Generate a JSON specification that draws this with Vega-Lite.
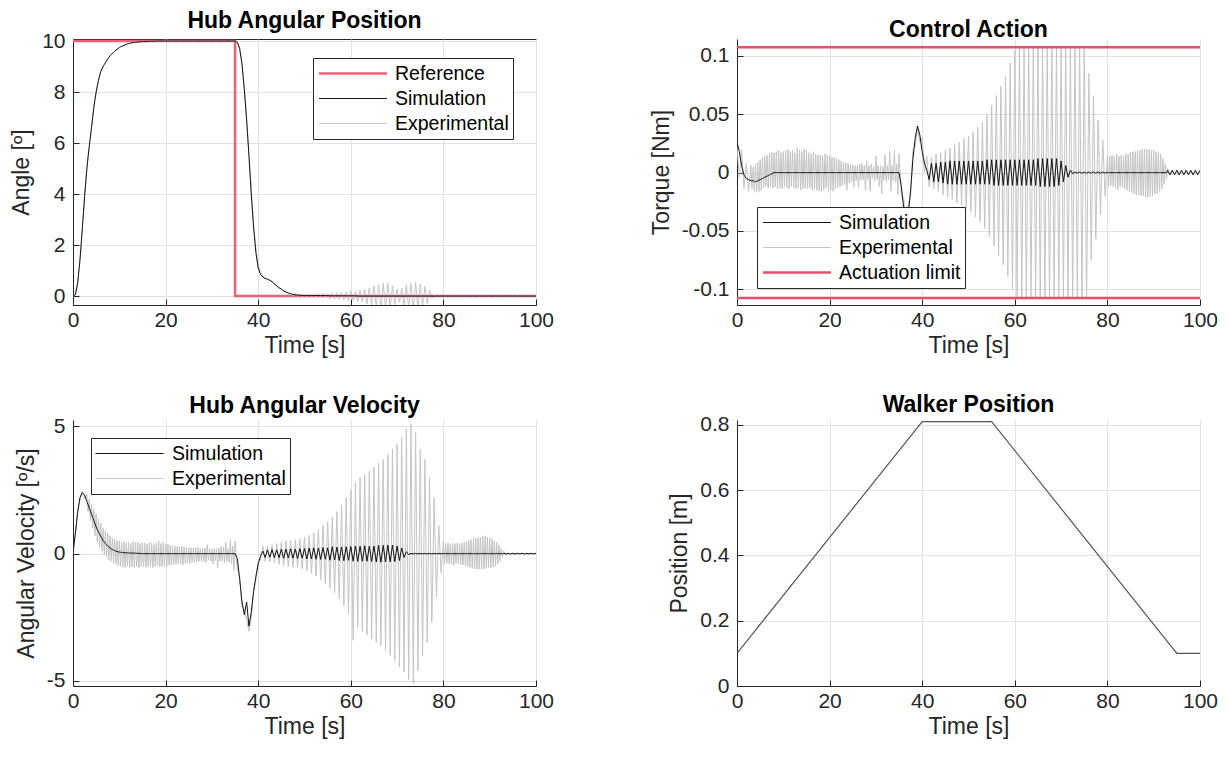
{
"$schema":"https://vega.github.io/schema/vega-lite/v6.json",
"autosize":{"type":"none"},
"padding":{"left":73,"top":39,"right":1155,"bottom":719},
"background":"white",
"config":{
 "view":{"stroke":null},
 "font":"Liberation Sans",
 "title":{"font":"Liberation Sans","fontSize":23,"fontWeight":"bold","color":"#000000","offset":-3},
 "axis":{"labelFont":"Liberation Sans","titleFont":"Liberation Sans","labelFontSize":21,"titleFontSize":23,"titleFontWeight":"normal","labelColor":"#262626","titleColor":"#262626","domainColor":"#262626","tickColor":"#262626","gridColor":"#e1e1e1","grid":true,"tickSize":-6,"labelFlush":false,"labelOverlap":false},
 "axisX":{"labelPadding":10,"titlePadding":4},
 "axisY":{"labelPadding":14,"titlePadding":8}
},
"datasets":{
"ref":[{"t":0,"r":10},{"t":35,"r":10},{"t":35,"r":0},{"t":100,"r":0}],
"lim":[{"u":0.1075},{"u":-0.1075}],
"walk":[{"t":0,"w":0.1},{"t":40,"w":0.81},{"t":55,"w":0.81},{"t":95,"w":0.1},{"t":100,"w":0.1}],
"main":[
{"t":0,"ps":0,"pe":0,"vs":0,"ve":0,"us":0.026,"ue":0.022},
{"t":0.5,"ps":0.05,"pe":0.04,"vs":0.8,"ve":0.7,"us":0.018,"ue":-0.004},
{"t":1,"ps":0.5,"pe":0.52,"vs":1.6,"ve":1.7,"us":0.006,"ue":0.02},
{"t":1.5,"ps":1.4,"pe":1.38,"vs":2.2,"ve":2.1,"us":-0.002,"ue":-0.014},
{"t":2,"ps":2.6,"pe":2.62,"vs":2.4,"ve":2.45,"us":-0.005,"ue":0.008},
{"t":2.5,"ps":3.9,"pe":3.88,"vs":2.3,"ve":2.15,"us":-0.006,"ue":-0.016},
{"t":3,"ps":5.0,"pe":5.0,"vs":2.05,"ve":2.35,"us":-0.007,"ue":0.006},
{"t":3.25,"ps":5.45,"pe":5.44,"vs":1.93,"ve":1.65,"us":-0.007,"ue":-0.014},
{"t":3.5,"ps":5.85,"pe":5.85,"vs":1.8,"ve":2.15,"us":-0.007,"ue":0.005},
{"t":3.75,"ps":6.23,"pe":6.22,"vs":1.68,"ve":1.3,"us":-0.0075,"ue":-0.016},
{"t":4,"ps":6.6,"pe":6.6,"vs":1.55,"ve":1.95,"us":-0.008,"ue":0.007},
{"t":4.25,"ps":7.0,"pe":6.99,"vs":1.42,"ve":1.0,"us":-0.0075,"ue":-0.017},
{"t":4.5,"ps":7.4,"pe":7.4,"vs":1.3,"ve":1.75,"us":-0.007,"ue":0.009},
{"t":4.75,"ps":7.72,"pe":7.71,"vs":1.17,"ve":0.7,"us":-0.0065,"ue":-0.016},
{"t":5,"ps":8.0,"pe":8.0,"vs":1.05,"ve":1.55,"us":-0.006,"ue":0.011},
{"t":5.25,"ps":8.24,"pe":8.23,"vs":0.95,"ve":0.45,"us":-0.0055,"ue":-0.015},
{"t":5.5,"ps":8.45,"pe":8.45,"vs":0.85,"ve":1.35,"us":-0.005,"ue":0.013},
{"t":5.75,"ps":8.64,"pe":8.63,"vs":0.76,"ve":0.25,"us":-0.0045,"ue":-0.013},
{"t":6,"ps":8.8,"pe":8.8,"vs":0.68,"ve":1.2,"us":-0.004,"ue":0.014},
{"t":6.25,"ps":8.91,"pe":8.9,"vs":0.6,"ve":0.1,"us":-0.0035,"ue":-0.012},
{"t":6.5,"ps":9.0,"pe":9.0,"vs":0.52,"ve":1.0,"us":-0.003,"ue":0.015},
{"t":6.75,"ps":9.08,"pe":9.07,"vs":0.46,"ve":-0.05,"us":-0.0025,"ue":-0.013},
{"t":7,"ps":9.15,"pe":9.15,"vs":0.4,"ve":0.9,"us":-0.002,"ue":0.016},
{"t":7.25,"ps":9.23,"pe":9.22,"vs":0.35,"ve":-0.15,"us":-0.0015,"ue":-0.012},
{"t":7.5,"ps":9.3,"pe":9.3,"vs":0.3,"ve":0.8,"us":-0.001,"ue":0.017},
{"t":7.75,"ps":9.36,"pe":9.35,"vs":0.26,"ve":-0.25,"us":-0.0005,"ue":-0.013},
{"t":8,"ps":9.42,"pe":9.42,"vs":0.22,"ve":0.7,"us":0,"ue":0.017},
{"t":8.25,"ps":9.47,"pe":9.46,"vs":0.19,"ve":-0.3,"us":0,"ue":-0.012},
{"t":8.5,"ps":9.52,"pe":9.52,"vs":0.16,"ve":0.62,"us":0,"ue":0.018},
{"t":8.75,"ps":9.56,"pe":9.56,"vs":0.14,"ve":-0.38,"us":0,"ue":-0.014},
{"t":9,"ps":9.6,"pe":9.6,"vs":0.12,"ve":0.58,"us":0,"ue":0.019},
{"t":9.25,"ps":9.64,"pe":9.63,"vs":0.1,"ve":-0.42,"us":0,"ue":-0.013},
{"t":9.5,"ps":9.67,"pe":9.67,"vs":0.09,"ve":0.52,"us":0,"ue":0.017},
{"t":9.75,"ps":9.71,"pe":9.7,"vs":0.07,"ve":-0.48,"us":0,"ue":-0.014},
{"t":10,"ps":9.74,"pe":9.74,"vs":0.06,"ve":0.5,"us":0,"ue":0.018},
{"t":10.25,"ps":9.77,"pe":9.77,"vs":0.055,"ve":-0.5,"us":0,"ue":-0.012},
{"t":10.5,"ps":9.79,"pe":9.79,"vs":0.05,"ve":0.45,"us":0,"ue":0.019},
{"t":10.75,"ps":9.81,"pe":9.81,"vs":0.045,"ve":-0.53,"us":0,"ue":-0.013},
{"t":11,"ps":9.83,"pe":9.83,"vs":0.04,"ve":0.46,"us":0,"ue":0.02},
{"t":11.25,"ps":9.85,"pe":9.85,"vs":0.035,"ve":-0.55,"us":0,"ue":-0.014},
{"t":11.5,"ps":9.87,"pe":9.87,"vs":0.03,"ve":0.42,"us":0,"ue":0.018},
{"t":11.75,"ps":9.89,"pe":9.89,"vs":0.03,"ve":-0.5,"us":0,"ue":-0.012},
{"t":12,"ps":9.9,"pe":9.9,"vs":0.03,"ve":0.44,"us":0,"ue":0.019},
{"t":12.25,"ps":9.91,"pe":9.91,"vs":0.025,"ve":-0.56,"us":0,"ue":-0.013},
{"t":12.5,"ps":9.92,"pe":9.92,"vs":0.02,"ve":0.4,"us":0,"ue":0.017},
{"t":12.75,"ps":9.93,"pe":9.93,"vs":0.02,"ve":-0.52,"us":0,"ue":-0.014},
{"t":13,"ps":9.94,"pe":9.94,"vs":0.02,"ve":0.48,"us":0,"ue":0.021},
{"t":13.25,"ps":9.945,"pe":9.945,"vs":0.02,"ve":-0.55,"us":0,"ue":-0.013},
{"t":13.5,"ps":9.95,"pe":9.95,"vs":0.02,"ve":0.43,"us":0,"ue":0.019},
{"t":13.75,"ps":9.955,"pe":9.955,"vs":0.015,"ve":-0.5,"us":0,"ue":-0.015},
{"t":14,"ps":9.96,"pe":9.96,"vs":0.01,"ve":0.45,"us":0,"ue":0.018},
{"t":14.25,"ps":9.965,"pe":9.965,"vs":0.01,"ve":-0.56,"us":0,"ue":-0.014},
{"t":14.5,"ps":9.97,"pe":9.97,"vs":0.01,"ve":0.4,"us":0,"ue":0.02},
{"t":14.75,"ps":9.972,"pe":9.972,"vs":0.005,"ve":-0.5,"us":0,"ue":-0.013},
{"t":15,"ps":9.975,"pe":9.975,"vs":0,"ve":0.44,"us":0,"ue":0.019},
{"t":15.25,"ps":9.978,"pe":9.978,"vs":0,"ve":-0.52,"us":0,"ue":-0.014},
{"t":15.5,"ps":9.98,"pe":9.98,"vs":0,"ve":0.42,"us":0,"ue":0.017},
{"t":15.75,"ps":9.98,"pe":9.98,"vs":0,"ve":-0.55,"us":0,"ue":-0.013},
{"t":16,"ps":9.98,"pe":9.98,"vs":0,"ve":0.38,"us":0,"ue":0.016},
{"t":16.25,"ps":9.985,"pe":9.985,"vs":0,"ve":-0.5,"us":0,"ue":-0.015},
{"t":16.5,"ps":9.99,"pe":9.99,"vs":0,"ve":0.45,"us":0,"ue":0.018},
{"t":16.75,"ps":9.99,"pe":9.99,"vs":0,"ve":-0.48,"us":0,"ue":-0.014},
{"t":17,"ps":9.99,"pe":9.99,"vs":0,"ve":0.4,"us":0,"ue":0.016},
{"t":17.25,"ps":9.99,"pe":9.99,"vs":0,"ve":-0.55,"us":0,"ue":-0.015},
{"t":17.5,"ps":9.99,"pe":9.99,"vs":0,"ve":0.36,"us":0,"ue":0.015},
{"t":17.75,"ps":9.995,"pe":9.995,"vs":0,"ve":-0.5,"us":0,"ue":-0.016},
{"t":18,"ps":10,"pe":10,"vs":0,"ve":0.42,"us":0,"ue":0.015},
{"t":18.25,"ps":10,"pe":10,"vs":0,"ve":-0.45,"us":0,"ue":-0.016},
{"t":18.5,"ps":10,"pe":10,"vs":0,"ve":0.5,"us":0,"ue":0.014},
{"t":18.75,"ps":10,"pe":10,"vs":0,"ve":-0.52,"us":0,"ue":-0.015},
{"t":19,"ps":10,"pe":10,"vs":0,"ve":0.4,"us":0,"ue":0.016},
{"t":19.25,"ps":10,"pe":10,"vs":0,"ve":-0.5,"us":0,"ue":-0.013},
{"t":19.5,"ps":10,"pe":10,"vs":0,"ve":0.45,"us":0,"ue":0.015},
{"t":19.75,"ps":10,"pe":10,"vs":0,"ve":-0.48,"us":0,"ue":-0.016},
{"t":20,"ps":10,"pe":10,"vs":0,"ve":0.35,"us":0,"ue":0.014},
{"t":20.25,"ps":10,"pe":10,"vs":0,"ve":-0.5,"us":0,"ue":-0.015},
{"t":20.5,"ps":10,"pe":10,"vs":0,"ve":0.38,"us":0,"ue":0.013},
{"t":20.75,"ps":10,"pe":10,"vs":0,"ve":-0.45,"us":0,"ue":-0.016},
{"t":21,"ps":10,"pe":10,"vs":0,"ve":0.32,"us":0,"ue":0.013},
{"t":21.25,"ps":10,"pe":10,"vs":0,"ve":-0.46,"us":0,"ue":-0.014},
{"t":21.5,"ps":10,"pe":10,"vs":0,"ve":0.3,"us":0,"ue":0.012},
{"t":21.75,"ps":10,"pe":10,"vs":0,"ve":-0.44,"us":0,"ue":-0.013},
{"t":22,"ps":10,"pe":10,"vs":0,"ve":0.3,"us":0,"ue":0.011},
{"t":22.25,"ps":10,"pe":10,"vs":0,"ve":-0.42,"us":0,"ue":-0.012},
{"t":22.5,"ps":10,"pe":10,"vs":0,"ve":0.28,"us":0,"ue":0.01},
{"t":22.75,"ps":10,"pe":10,"vs":0,"ve":-0.4,"us":0,"ue":-0.011},
{"t":23,"ps":10,"pe":10,"vs":0,"ve":0.28,"us":0,"ue":0.009},
{"t":23.25,"ps":10,"pe":10,"vs":0,"ve":-0.4,"us":0,"ue":-0.01},
{"t":23.5,"ps":10,"pe":10,"vs":0,"ve":0.3,"us":0,"ue":0.008},
{"t":23.75,"ps":10,"pe":10,"vs":0,"ve":-0.45,"us":0,"ue":-0.015},
{"t":24,"ps":10,"pe":10,"vs":0,"ve":0.26,"us":0,"ue":0.008},
{"t":24.25,"ps":10,"pe":10,"vs":0,"ve":-0.38,"us":0,"ue":-0.009},
{"t":24.5,"ps":10,"pe":10,"vs":0,"ve":0.24,"us":0,"ue":0.007},
{"t":24.75,"ps":10,"pe":10,"vs":0,"ve":-0.36,"us":0,"ue":-0.008},
{"t":25,"ps":10,"pe":10,"vs":0,"ve":0.25,"us":0,"ue":0.007},
{"t":25.25,"ps":10,"pe":10,"vs":0,"ve":-0.38,"us":0,"ue":-0.012},
{"t":25.5,"ps":10,"pe":10,"vs":0,"ve":0.22,"us":0,"ue":0.006},
{"t":25.75,"ps":10,"pe":10,"vs":0,"ve":-0.35,"us":0,"ue":-0.007},
{"t":26,"ps":10,"pe":10,"vs":0,"ve":0.22,"us":0,"ue":0.006},
{"t":26.25,"ps":10,"pe":10,"vs":0,"ve":-0.34,"us":0,"ue":-0.013},
{"t":26.5,"ps":10,"pe":10,"vs":0,"ve":0.24,"us":0,"ue":0.007},
{"t":26.75,"ps":10,"pe":10,"vs":0,"ve":-0.32,"us":0,"ue":-0.006},
{"t":27,"ps":10,"pe":10,"vs":0,"ve":0.25,"us":0,"ue":0.008},
{"t":27.25,"ps":10,"pe":10,"vs":0,"ve":-0.3,"us":0,"ue":-0.006},
{"t":27.5,"ps":10,"pe":10,"vs":0,"ve":0.2,"us":0,"ue":0.006},
{"t":27.75,"ps":10,"pe":10,"vs":0,"ve":-0.32,"us":0,"ue":-0.015},
{"t":28,"ps":10,"pe":10,"vs":0,"ve":0.2,"us":0,"ue":0.01},
{"t":28.25,"ps":10,"pe":10,"vs":0,"ve":-0.3,"us":0,"ue":-0.006},
{"t":28.5,"ps":10,"pe":10,"vs":0,"ve":0.22,"us":0,"ue":0.006},
{"t":28.75,"ps":10,"pe":10,"vs":0,"ve":-0.35,"us":0,"ue":-0.016},
{"t":29,"ps":10,"pe":10,"vs":0,"ve":0.35,"us":0,"ue":0.007},
{"t":29.25,"ps":10,"pe":10,"vs":0,"ve":-0.25,"us":0,"ue":-0.005},
{"t":29.5,"ps":10,"pe":10,"vs":0,"ve":0.2,"us":0,"ue":0.005},
{"t":29.75,"ps":10,"pe":10,"vs":0,"ve":-0.3,"us":0,"ue":-0.007},
{"t":30,"ps":10,"pe":10,"vs":0,"ve":0.18,"us":0,"ue":0.014},
{"t":30.25,"ps":10,"pe":10,"vs":0,"ve":-0.4,"us":0,"ue":-0.006},
{"t":30.5,"ps":10,"pe":10,"vs":0,"ve":0.2,"us":0,"ue":0.006},
{"t":30.75,"ps":10,"pe":10,"vs":0,"ve":-0.28,"us":0,"ue":-0.012},
{"t":31,"ps":10,"pe":10,"vs":0,"ve":0.2,"us":0,"ue":0.006},
{"t":31.25,"ps":10,"pe":10,"vs":0,"ve":-0.55,"us":0,"ue":-0.018},
{"t":31.5,"ps":10,"pe":10,"vs":0,"ve":0.22,"us":0,"ue":0.005},
{"t":31.75,"ps":10,"pe":10,"vs":0,"ve":-0.3,"us":0,"ue":-0.006},
{"t":32,"ps":10,"pe":10,"vs":0,"ve":0.3,"us":0,"ue":0.015},
{"t":32.25,"ps":10,"pe":10,"vs":0,"ve":-0.3,"us":0,"ue":-0.008},
{"t":32.5,"ps":10,"pe":10,"vs":0,"ve":0.25,"us":0,"ue":0.006},
{"t":32.75,"ps":10,"pe":10,"vs":0,"ve":-0.35,"us":0,"ue":-0.006},
{"t":33,"ps":10,"pe":10,"vs":0,"ve":0.45,"us":0,"ue":0.018},
{"t":33.25,"ps":10,"pe":10,"vs":0,"ve":-0.3,"us":0,"ue":-0.016},
{"t":33.5,"ps":10,"pe":10,"vs":0,"ve":0.2,"us":0,"ue":0.006},
{"t":33.75,"ps":10,"pe":10,"vs":0,"ve":-0.35,"us":0,"ue":-0.007},
{"t":34,"ps":10,"pe":10,"vs":0,"ve":0.55,"us":0,"ue":0.019},
{"t":34.25,"ps":10,"pe":10,"vs":0,"ve":-0.4,"us":0,"ue":-0.008},
{"t":34.5,"ps":10,"pe":10,"vs":0,"ve":0.3,"us":0,"ue":0.007},
{"t":34.75,"ps":10,"pe":10,"vs":0,"ve":-0.65,"us":0,"ue":-0.019},
{"t":35,"ps":10,"pe":10,"vs":0,"ve":0.5,"us":0,"ue":0.016},
{"t":35.5,"ps":9.95,"pe":9.95,"vs":-0.2,"ve":-0.6,"us":-0.012,"ue":-0.02},
{"t":36,"ps":9.7,"pe":9.72,"vs":-1.0,"ve":-0.9,"us":-0.03,"ue":-0.022},
{"t":36.5,"ps":9.1,"pe":9.12,"vs":-1.9,"ve":-2.1,"us":-0.04,"ue":-0.045},
{"t":37,"ps":8.1,"pe":8.15,"vs":-2.4,"ve":-2.2,"us":-0.035,"ue":-0.028},
{"t":37.5,"ps":6.9,"pe":6.95,"vs":-1.9,"ve":-2.6,"us":-0.015,"ue":-0.02},
{"t":38,"ps":5.5,"pe":5.6,"vs":-2.85,"ve":-3.05,"us":0.012,"ue":0.02},
{"t":38.5,"ps":4.0,"pe":4.15,"vs":-2.3,"ve":-2.5,"us":0.03,"ue":0.022},
{"t":39,"ps":2.7,"pe":2.85,"vs":-1.5,"ve":-1.5,"us":0.04,"ue":0.038},
{"t":39.5,"ps":1.7,"pe":1.85,"vs":-0.9,"ve":-1.0,"us":0.032,"ue":0.026},
{"t":40,"ps":1.1,"pe":1.22,"vs":-0.4,"ve":-0.3,"us":0.018,"ue":0.03},
{"t":40.5,"ps":0.85,"pe":0.93,"vs":-0.1,"ve":-0.25,"us":0.008,"ue":0.0},
{"t":41,"ps":0.74,"pe":0.8,"vs":0.1,"ve":0.3,"us":0.002,"ue":0.014},
{"t":41.5,"ps":0.69,"pe":0.7,"vs":-0.15,"ve":-0.3,"us":-0.006,"ue":-0.012},
{"t":42,"ps":0.66,"pe":0.68,"vs":0.15,"ve":0.3,"us":0.008,"ue":0.013},
{"t":42.5,"ps":0.62,"pe":0.6,"vs":-0.14,"ve":-0.32,"us":-0.008,"ue":-0.014},
{"t":43,"ps":0.56,"pe":0.58,"vs":0.16,"ve":0.35,"us":0.008,"ue":0.016},
{"t":43.5,"ps":0.48,"pe":0.46,"vs":-0.15,"ve":-0.36,"us":-0.008,"ue":-0.016},
{"t":44,"ps":0.4,"pe":0.42,"vs":0.15,"ve":0.4,"us":0.009,"ue":0.017},
{"t":44.5,"ps":0.33,"pe":0.3,"vs":-0.16,"ve":-0.42,"us":-0.009,"ue":-0.019},
{"t":45,"ps":0.27,"pe":0.3,"vs":0.17,"ve":0.45,"us":0.009,"ue":0.019},
{"t":45.5,"ps":0.21,"pe":0.18,"vs":-0.18,"ve":-0.47,"us":-0.01,"ue":-0.021},
{"t":46,"ps":0.16,"pe":0.19,"vs":0.18,"ve":0.5,"us":0.01,"ue":0.021},
{"t":46.5,"ps":0.12,"pe":0.09,"vs":-0.17,"ve":-0.5,"us":-0.01,"ue":-0.023},
{"t":47,"ps":0.09,"pe":0.12,"vs":0.19,"ve":0.52,"us":0.01,"ue":0.024},
{"t":47.5,"ps":0.07,"pe":0.02,"vs":-0.18,"ve":-0.53,"us":-0.01,"ue":-0.026},
{"t":48,"ps":0.05,"pe":0.1,"vs":0.18,"ve":0.55,"us":0.01,"ue":0.026},
{"t":48.5,"ps":0.04,"pe":-0.01,"vs":-0.19,"ve":-0.56,"us":-0.01,"ue":-0.028},
{"t":49,"ps":0.03,"pe":0.08,"vs":0.2,"ve":0.58,"us":0.01,"ue":0.029},
{"t":49.5,"ps":0.03,"pe":-0.02,"vs":-0.18,"ve":-0.6,"us":-0.01,"ue":-0.031},
{"t":50,"ps":0.02,"pe":0.07,"vs":0.2,"ve":0.65,"us":0.01,"ue":0.031},
{"t":50.5,"ps":0.02,"pe":-0.03,"vs":-0.21,"ve":-0.68,"us":-0.01,"ue":-0.034},
{"t":51,"ps":0.02,"pe":0.07,"vs":0.22,"ve":0.72,"us":0.01,"ue":0.035},
{"t":51.5,"ps":0.02,"pe":-0.03,"vs":-0.21,"ve":-0.77,"us":-0.01,"ue":-0.038},
{"t":52,"ps":0.02,"pe":0.07,"vs":0.23,"ve":0.82,"us":0.01,"ue":0.039},
{"t":52.5,"ps":0.02,"pe":-0.06,"vs":-0.22,"ve":-0.88,"us":-0.01,"ue":-0.042},
{"t":53,"ps":0.02,"pe":0.1,"vs":0.22,"ve":0.95,"us":0.01,"ue":0.043},
{"t":53.5,"ps":0.02,"pe":-0.06,"vs":-0.23,"ve":-1.02,"us":-0.01,"ue":-0.048},
{"t":54,"ps":0.02,"pe":0.1,"vs":0.24,"ve":1.1,"us":0.011,"ue":0.05},
{"t":54.5,"ps":0.02,"pe":-0.06,"vs":-0.22,"ve":-1.18,"us":-0.01,"ue":-0.055},
{"t":55,"ps":0.02,"pe":0.1,"vs":0.23,"ve":1.25,"us":0.011,"ue":0.058},
{"t":55.5,"ps":0.01,"pe":-0.11,"vs":-0.26,"ve":-1.34,"us":-0.011,"ue":-0.063},
{"t":56,"ps":0.01,"pe":0.13,"vs":0.27,"ve":1.42,"us":0.011,"ue":0.066},
{"t":56.5,"ps":0.01,"pe":-0.11,"vs":-0.25,"ve":-1.53,"us":-0.011,"ue":-0.071},
{"t":57,"ps":0.01,"pe":0.13,"vs":0.26,"ve":1.65,"us":0.011,"ue":0.074},
{"t":57.5,"ps":0.01,"pe":-0.14,"vs":-0.27,"ve":-1.78,"us":-0.011,"ue":-0.079},
{"t":58,"ps":0.01,"pe":0.16,"vs":0.26,"ve":1.9,"us":0.011,"ue":0.083},
{"t":58.5,"ps":0.01,"pe":-0.14,"vs":-0.28,"ve":-2.05,"us":-0.011,"ue":-0.089},
{"t":59,"ps":0.01,"pe":0.16,"vs":0.27,"ve":2.2,"us":0.011,"ue":0.094},
{"t":59.5,"ps":0.01,"pe":-0.17,"vs":-0.26,"ve":-2.35,"us":-0.011,"ue":-0.1},
{"t":60,"ps":0.01,"pe":0.19,"vs":0.28,"ve":2.5,"us":0.011,"ue":0.105},
{"t":60.5,"ps":0.01,"pe":-0.17,"vs":-0.3,"ve":-3.4,"us":-0.011,"ue":-0.107},
{"t":61,"ps":0.01,"pe":0.19,"vs":0.3,"ve":2.8,"us":0.011,"ue":0.107},
{"t":61.5,"ps":0,"pe":-0.22,"vs":-0.31,"ve":-2.9,"us":-0.011,"ue":-0.107},
{"t":62,"ps":0,"pe":0.22,"vs":0.29,"ve":3.0,"us":0.011,"ue":0.107},
{"t":62.5,"ps":0,"pe":-0.22,"vs":-0.3,"ve":-3.05,"us":-0.011,"ue":-0.107},
{"t":63,"ps":0,"pe":0.26,"vs":0.31,"ve":3.1,"us":0.011,"ue":0.107},
{"t":63.5,"ps":0,"pe":-0.3,"vs":-0.3,"ve":-3.2,"us":-0.011,"ue":-0.107},
{"t":64,"ps":0,"pe":0.33,"vs":0.29,"ve":3.25,"us":0.011,"ue":0.107},
{"t":64.5,"ps":0,"pe":-0.37,"vs":-0.31,"ve":-3.35,"us":-0.011,"ue":-0.107},
{"t":65,"ps":0,"pe":0.4,"vs":0.3,"ve":3.4,"us":0.012,"ue":0.107},
{"t":65.5,"ps":0,"pe":-0.43,"vs":-0.33,"ve":-3.5,"us":-0.012,"ue":-0.107},
{"t":66,"ps":0,"pe":0.46,"vs":0.32,"ve":3.55,"us":0.012,"ue":0.107},
{"t":66.5,"ps":0,"pe":-0.49,"vs":-0.34,"ve":-3.62,"us":-0.012,"ue":-0.107},
{"t":67,"ps":0,"pe":0.5,"vs":0.33,"ve":3.7,"us":0.012,"ue":0.107},
{"t":67.5,"ps":0,"pe":-0.52,"vs":-0.33,"ve":-3.8,"us":-0.012,"ue":-0.107},
{"t":68,"ps":0,"pe":0.5,"vs":0.34,"ve":3.9,"us":0.012,"ue":0.107},
{"t":68.5,"ps":0,"pe":-0.45,"vs":-0.32,"ve":-4.0,"us":-0.012,"ue":-0.107},
{"t":69,"ps":0,"pe":0.4,"vs":0.33,"ve":4.1,"us":0.012,"ue":0.107},
{"t":69.5,"ps":0,"pe":-0.33,"vs":-0.31,"ve":-4.2,"us":-0.011,"ue":-0.107},
{"t":70,"ps":0,"pe":0.28,"vs":0.3,"ve":4.3,"us":0.01,"ue":0.107},
{"t":70.5,"ps":0,"pe":-0.25,"vs":-0.27,"ve":-4.45,"us":-0.008,"ue":-0.107},
{"t":71,"ps":0,"pe":0.3,"vs":0.22,"ve":4.55,"us":0.006,"ue":0.107},
{"t":71.5,"ps":0,"pe":-0.36,"vs":-0.15,"ve":-4.65,"us":-0.004,"ue":-0.107},
{"t":72,"ps":0,"pe":0.42,"vs":0.08,"ve":4.9,"us":0.002,"ue":0.107},
{"t":72.5,"ps":0,"pe":-0.47,"vs":-0.04,"ve":-4.95,"us":-0.001,"ue":-0.107},
{"t":73,"ps":0,"pe":0.5,"vs":0.01,"ve":5.1,"us":0.0005,"ue":0.107},
{"t":73.5,"ps":0,"pe":-0.52,"vs":-0.01,"ve":-5.1,"us":-0.0005,"ue":-0.107},
{"t":74,"ps":0,"pe":0.54,"vs":0.01,"ve":4.75,"us":0.0005,"ue":0.107},
{"t":74.5,"ps":0,"pe":-0.52,"vs":-0.01,"ve":-4.6,"us":-0.0005,"ue":-0.107},
{"t":75,"ps":0,"pe":0.47,"vs":0.01,"ve":4.1,"us":0.0005,"ue":0.107},
{"t":75.5,"ps":0,"pe":-0.42,"vs":-0.01,"ve":-4.0,"us":-0.0005,"ue":-0.107},
{"t":76,"ps":0,"pe":0.38,"vs":0.01,"ve":3.7,"us":0.0005,"ue":0.085},
{"t":76.5,"ps":0,"pe":-0.3,"vs":-0.01,"ve":-3.5,"us":-0.0005,"ue":-0.075},
{"t":77,"ps":0,"pe":0.22,"vs":0.01,"ve":3.0,"us":0.0005,"ue":0.066},
{"t":77.5,"ps":0,"pe":-0.1,"vs":-0.01,"ve":-2.7,"us":-0.0005,"ue":-0.057},
{"t":78,"ps":0,"pe":0.04,"vs":0.01,"ve":2.2,"us":0.0005,"ue":0.045},
{"t":78.5,"ps":0,"pe":-0.01,"vs":-0.01,"ve":-1.7,"us":-0.0005,"ue":-0.036},
{"t":79,"ps":0,"pe":0.01,"vs":0.01,"ve":1.1,"us":0.0005,"ue":0.028},
{"t":79.5,"ps":0,"pe":-0.01,"vs":-0.01,"ve":-0.75,"us":-0.0005,"ue":-0.02},
{"t":80,"ps":0,"pe":0.01,"vs":0.01,"ve":0.5,"us":0.0005,"ue":0.015},
{"t":80.25,"ps":0,"pe":-0.01,"vs":-0.01,"ve":-0.42,"us":-0.0005,"ue":-0.012},
{"t":80.5,"ps":0,"pe":0.01,"vs":0.01,"ve":0.4,"us":0.0005,"ue":0.014},
{"t":80.75,"ps":0,"pe":-0.01,"vs":-0.01,"ve":-0.38,"us":-0.0005,"ue":-0.011},
{"t":81,"ps":0,"pe":0.01,"vs":0.01,"ve":0.42,"us":0.0005,"ue":0.015},
{"t":81.25,"ps":0,"pe":-0.01,"vs":-0.01,"ve":-0.4,"us":-0.0005,"ue":-0.012},
{"t":81.5,"ps":0,"pe":0.01,"vs":0.01,"ve":0.38,"us":0.0005,"ue":0.014},
{"t":81.75,"ps":0,"pe":-0.01,"vs":-0.01,"ve":-0.42,"us":-0.0005,"ue":-0.013},
{"t":82,"ps":0,"pe":0.01,"vs":0.01,"ve":0.4,"us":0.0005,"ue":0.016},
{"t":82.25,"ps":0,"pe":-0.01,"vs":-0.01,"ve":-0.45,"us":-0.0005,"ue":-0.015},
{"t":82.5,"ps":0,"pe":0.01,"vs":0.01,"ve":0.4,"us":0.0005,"ue":0.014},
{"t":82.75,"ps":0,"pe":-0.01,"vs":-0.01,"ve":-0.4,"us":-0.0005,"ue":-0.012},
{"t":83,"ps":0,"pe":0.01,"vs":0.01,"ve":0.42,"us":0.0005,"ue":0.015},
{"t":83.25,"ps":0,"pe":-0.01,"vs":-0.01,"ve":-0.4,"us":-0.0005,"ue":-0.013},
{"t":83.5,"ps":0,"pe":0.01,"vs":0.01,"ve":0.38,"us":0.0005,"ue":0.014},
{"t":83.75,"ps":0,"pe":-0.01,"vs":-0.01,"ve":-0.43,"us":-0.0005,"ue":-0.014},
{"t":84,"ps":0,"pe":0.01,"vs":0.01,"ve":0.42,"us":0.0005,"ue":0.016},
{"t":84.25,"ps":0,"pe":-0.01,"vs":-0.01,"ve":-0.45,"us":-0.0005,"ue":-0.015},
{"t":84.5,"ps":0,"pe":0.01,"vs":0.01,"ve":0.45,"us":0.0005,"ue":0.016},
{"t":84.75,"ps":0,"pe":-0.01,"vs":-0.01,"ve":-0.48,"us":-0.0005,"ue":-0.016},
{"t":85,"ps":0,"pe":0.01,"vs":0.01,"ve":0.48,"us":0.0005,"ue":0.017},
{"t":85.25,"ps":0,"pe":-0.01,"vs":-0.01,"ve":-0.5,"us":-0.0005,"ue":-0.017},
{"t":85.5,"ps":0,"pe":0.01,"vs":0.01,"ve":0.52,"us":0.0005,"ue":0.018},
{"t":85.75,"ps":0,"pe":-0.01,"vs":-0.01,"ve":-0.55,"us":-0.0005,"ue":-0.018},
{"t":86,"ps":0,"pe":0.01,"vs":0.01,"ve":0.55,"us":0.0005,"ue":0.018},
{"t":86.25,"ps":0,"pe":-0.01,"vs":-0.01,"ve":-0.58,"us":-0.0005,"ue":-0.019},
{"t":86.5,"ps":0,"pe":0.01,"vs":0.01,"ve":0.6,"us":0.0005,"ue":0.019},
{"t":86.75,"ps":0,"pe":-0.01,"vs":-0.01,"ve":-0.6,"us":-0.0005,"ue":-0.019},
{"t":87,"ps":0,"pe":0.01,"vs":0.01,"ve":0.6,"us":0.0005,"ue":0.019},
{"t":87.25,"ps":0,"pe":-0.01,"vs":-0.01,"ve":-0.62,"us":-0.0005,"ue":-0.02},
{"t":87.5,"ps":0,"pe":0.01,"vs":0.01,"ve":0.65,"us":0.0005,"ue":0.02},
{"t":87.75,"ps":0,"pe":-0.01,"vs":-0.01,"ve":-0.6,"us":-0.0005,"ue":-0.02},
{"t":88,"ps":0,"pe":0.01,"vs":0.01,"ve":0.65,"us":0.0005,"ue":0.02},
{"t":88.25,"ps":0,"pe":-0.01,"vs":-0.01,"ve":-0.62,"us":-0.0005,"ue":-0.021},
{"t":88.5,"ps":0,"pe":0.01,"vs":0.01,"ve":0.68,"us":0.0005,"ue":0.02},
{"t":88.75,"ps":0,"pe":-0.01,"vs":-0.01,"ve":-0.6,"us":-0.0005,"ue":-0.021},
{"t":89,"ps":0,"pe":0.01,"vs":0.01,"ve":0.7,"us":0.0005,"ue":0.02},
{"t":89.25,"ps":0,"pe":-0.01,"vs":-0.01,"ve":-0.58,"us":-0.0005,"ue":-0.02},
{"t":89.5,"ps":0,"pe":0.01,"vs":0.01,"ve":0.65,"us":0.0005,"ue":0.019},
{"t":89.75,"ps":0,"pe":-0.01,"vs":-0.01,"ve":-0.56,"us":-0.0005,"ue":-0.02},
{"t":90,"ps":0,"pe":0.01,"vs":0.01,"ve":0.62,"us":0.0005,"ue":0.019},
{"t":90.25,"ps":0,"pe":-0.01,"vs":-0.01,"ve":-0.55,"us":-0.0005,"ue":-0.018},
{"t":90.5,"ps":0,"pe":0.01,"vs":0.01,"ve":0.58,"us":0.0005,"ue":0.018},
{"t":90.75,"ps":0,"pe":-0.01,"vs":-0.01,"ve":-0.52,"us":-0.0005,"ue":-0.018},
{"t":91,"ps":0,"pe":0.01,"vs":0.01,"ve":0.5,"us":0.0005,"ue":0.017},
{"t":91.25,"ps":0,"pe":-0.01,"vs":-0.01,"ve":-0.48,"us":-0.0005,"ue":-0.016},
{"t":91.5,"ps":0,"pe":0.01,"vs":0.01,"ve":0.45,"us":0.0005,"ue":0.016},
{"t":91.75,"ps":0,"pe":-0.01,"vs":-0.01,"ve":-0.4,"us":-0.0005,"ue":-0.014},
{"t":92,"ps":0,"pe":0.01,"vs":0.01,"ve":0.35,"us":0.0005,"ue":0.012},
{"t":92.25,"ps":0,"pe":-0.01,"vs":-0.01,"ve":-0.28,"us":-0.0005,"ue":-0.01},
{"t":92.5,"ps":0,"pe":0.01,"vs":0.01,"ve":0.2,"us":0.0005,"ue":0.008},
{"t":92.75,"ps":0,"pe":-0.01,"vs":-0.01,"ve":-0.15,"us":-0.0005,"ue":-0.006},
{"t":93,"ps":0,"pe":0.01,"vs":0.01,"ve":0.1,"us":0.002,"ue":0.004},
{"t":93.5,"ps":0,"pe":-0.01,"vs":-0.01,"ve":-0.05,"us":-0.002,"ue":-0.002},
{"t":94,"ps":0,"pe":0.01,"vs":0.01,"ve":0.02,"us":0.002,"ue":0.0005},
{"t":94.5,"ps":0,"pe":-0.01,"vs":-0.01,"ve":-0.02,"us":-0.002,"ue":-0.0005},
{"t":95,"ps":0,"pe":0.01,"vs":0.01,"ve":0.02,"us":0.002,"ue":0.0005},
{"t":95.5,"ps":0,"pe":-0.01,"vs":-0.01,"ve":-0.02,"us":-0.002,"ue":-0.0005},
{"t":96,"ps":0,"pe":0.01,"vs":0.01,"ve":0.02,"us":0.002,"ue":0.0005},
{"t":96.5,"ps":0,"pe":-0.01,"vs":-0.01,"ve":-0.02,"us":-0.002,"ue":-0.0005},
{"t":97,"ps":0,"pe":0.01,"vs":0.01,"ve":0.02,"us":0.002,"ue":0.0005},
{"t":97.5,"ps":0,"pe":-0.01,"vs":-0.01,"ve":-0.02,"us":-0.002,"ue":-0.0005},
{"t":98,"ps":0,"pe":0.01,"vs":0.01,"ve":0.02,"us":0.002,"ue":0.0005},
{"t":98.5,"ps":0,"pe":-0.01,"vs":-0.01,"ve":-0.02,"us":-0.002,"ue":-0.0005},
{"t":99,"ps":0,"pe":0.01,"vs":0.01,"ve":0.02,"us":0.002,"ue":0.0005},
{"t":99.5,"ps":0,"pe":-0.01,"vs":-0.01,"ve":-0.02,"us":-0.002,"ue":-0.0005},
{"t":100,"ps":0,"pe":0.01,"vs":0.01,"ve":0.02,"us":0.002,"ue":0.0005}
]},
"columns":2,
"spacing":{"row":115,"column":201},
"bounds":"flush",
"resolve":{"scale":{"color":"independent"},"legend":{"color":"independent"}},
"concat":[
{
 "title":"Hub Angular Position",
 "width":463,"height":266,
 "view":{"stroke":"#262626","strokeWidth":1},
 "layer":[
  {"data":{"name":"ref"},"mark":{"type":"line","clip":true,"strokeWidth":2.5},
   "encoding":{
    "x":{"field":"t","type":"quantitative","scale":{"domain":[0,100],"nice":false},"axis":{"values":[0,20,40,60,80,100],"title":"Time [s]"}},
    "y":{"field":"r","type":"quantitative","scale":{"domain":[-0.35,10.08],"nice":false,"zero":false},"axis":{"values":[0,2,4,6,8,10],"title":"Angle [º]"}},
    "order":{"value":null},
    "color":{"datum":"Reference","type":"nominal","scale":{"domain":["Reference","Simulation","Experimental"],"range":["#ee5f78","#141414","#c4c4c4"]},
      "legend":{"orient":"none","legendX":240,"legendY":19,"title":null,"symbolType":"stroke","symbolSize":4624,"clipHeight":23,"rowPadding":2,"padding":4,"labelOffset":8,"labelLimit":400,"labelFontSize":19.5,"labelFont":"Liberation Sans","labelColor":"#000000","strokeColor":"#262626","fillColor":"#ffffff",
        "encode":{"symbols":{"update":{"x":{"value":36},"strokeWidth":{"signal":"datum.value === 'Reference' ? 2.5 : 1"}}},"labels":{"update":{"x":{"value":78}}}}}}
   }},
  {"data":{"name":"main"},"mark":{"type":"line","clip":true,"strokeWidth":1},
   "encoding":{
    "x":{"field":"t","type":"quantitative","scale":{"domain":[0,100],"nice":false},"axis":{"values":[0,20,40,60,80,100],"title":"Time [s]"}},
    "y":{"field":"pe","type":"quantitative","scale":{"domain":[-0.35,10.08],"nice":false,"zero":false},"axis":{"values":[0,2,4,6,8,10],"title":"Angle [º]"}},
    "color":{"datum":"Experimental","type":"nominal"}
   }},
  {"data":{"name":"main"},"mark":{"type":"line","clip":true,"strokeWidth":1},
   "encoding":{
    "x":{"field":"t","type":"quantitative","scale":{"domain":[0,100],"nice":false},"axis":{"values":[0,20,40,60,80,100],"title":"Time [s]"}},
    "y":{"field":"ps","type":"quantitative","scale":{"domain":[-0.35,10.08],"nice":false,"zero":false},"axis":{"values":[0,2,4,6,8,10],"title":"Angle [º]"}},
    "color":{"datum":"Simulation","type":"nominal"}
   }}
 ]
},
{
 "title":"Control Action",
 "width":463,"height":266,
 "layer":[
  {"data":{"name":"main"},"mark":{"type":"line","clip":true,"strokeWidth":1},
   "encoding":{
    "x":{"field":"t","type":"quantitative","scale":{"domain":[0,100],"nice":false},"axis":{"values":[0,20,40,60,80,100],"title":"Time [s]"}},
    "y":{"field":"ue","type":"quantitative","scale":{"domain":[-0.1135,0.1145],"nice":false,"zero":false},"axis":{"values":[-0.1,-0.05,0,0.05,0.1],"labelExpr":"'' + datum.value","title":"Torque [Nm]"}},
    "color":{"datum":"Experimental","type":"nominal","scale":{"domain":["Simulation","Experimental","Actuation limit"],"range":["#141414","#c4c4c4","#e84e6a"]},
      "legend":{"orient":"none","legendX":20,"legendY":168,"title":null,"symbolType":"stroke","symbolSize":4624,"clipHeight":23,"rowPadding":2,"padding":4,"labelOffset":8,"labelLimit":400,"labelFontSize":19.5,"labelFont":"Liberation Sans","labelColor":"#000000","strokeColor":"#262626","fillColor":"#ffffff",
        "encode":{"symbols":{"update":{"x":{"value":36},"strokeWidth":{"signal":"datum.value === 'Actuation limit' ? 2.5 : 1"}}},"labels":{"update":{"x":{"value":78}}}}}}
   }},
  {"data":{"name":"main"},"mark":{"type":"line","clip":true,"strokeWidth":1},
   "encoding":{
    "x":{"field":"t","type":"quantitative","scale":{"domain":[0,100],"nice":false},"axis":{"values":[0,20,40,60,80,100],"title":"Time [s]"}},
    "y":{"field":"us","type":"quantitative","scale":{"domain":[-0.1135,0.1145],"nice":false,"zero":false},"axis":{"values":[-0.1,-0.05,0,0.05,0.1],"labelExpr":"'' + datum.value","title":"Torque [Nm]"}},
    "color":{"datum":"Simulation","type":"nominal"}
   }},
  {"data":{"name":"lim"},"mark":{"type":"rule","clip":true,"strokeWidth":2.5},
   "encoding":{
    "y":{"field":"u","type":"quantitative","scale":{"domain":[-0.1135,0.1145],"nice":false,"zero":false},"axis":{"values":[-0.1,-0.05,0,0.05,0.1],"labelExpr":"'' + datum.value","title":"Torque [Nm]"}},
    "color":{"datum":"Actuation limit","type":"nominal"}
   }}
 ]
},
{
 "title":"Hub Angular Velocity",
 "width":463,"height":266,
 "layer":[
  {"data":{"name":"main"},"mark":{"type":"line","clip":true,"strokeWidth":1},
   "encoding":{
    "x":{"field":"t","type":"quantitative","scale":{"domain":[0,100],"nice":false},"axis":{"values":[0,20,40,60,80,100],"title":"Time [s]"}},
    "y":{"field":"ve","type":"quantitative","scale":{"domain":[-5.2,5.25],"nice":false,"zero":false},"axis":{"values":[-5,0,5],"labelExpr":"'' + datum.value","title":"Angular Velocity [º/s]"}},
    "color":{"datum":"Experimental","type":"nominal","scale":{"domain":["Simulation","Experimental"],"range":["#141414","#c4c4c4"]},
      "legend":{"orient":"none","legendX":18,"legendY":18,"title":null,"symbolType":"stroke","symbolSize":4624,"clipHeight":23,"rowPadding":2,"padding":4,"labelOffset":8,"labelLimit":400,"labelFontSize":19.5,"labelFont":"Liberation Sans","labelColor":"#000000","strokeColor":"#262626","fillColor":"#ffffff",
        "encode":{"symbols":{"update":{"strokeWidth":{"value":1}}}}}}
   }},
  {"data":{"name":"main"},"mark":{"type":"line","clip":true,"strokeWidth":1},
   "encoding":{
    "x":{"field":"t","type":"quantitative","scale":{"domain":[0,100],"nice":false},"axis":{"values":[0,20,40,60,80,100],"title":"Time [s]"}},
    "y":{"field":"vs","type":"quantitative","scale":{"domain":[-5.2,5.25],"nice":false,"zero":false},"axis":{"values":[-5,0,5],"labelExpr":"'' + datum.value","title":"Angular Velocity [º/s]"}},
    "color":{"datum":"Simulation","type":"nominal"}
   }}
 ]
},
{
 "title":"Walker Position",
 "width":463,"height":266,
 "layer":[
  {"data":{"name":"walk"},"mark":{"type":"line","clip":true,"color":"#555555","strokeWidth":1.2},
   "encoding":{
    "x":{"field":"t","type":"quantitative","scale":{"domain":[0,100],"nice":false},"axis":{"values":[0,20,40,60,80,100],"title":"Time [s]"}},
    "y":{"field":"w","type":"quantitative","scale":{"domain":[0,0.815],"nice":false,"zero":false},"axis":{"values":[0,0.2,0.4,0.6,0.8],"labelExpr":"'' + datum.value","title":"Position [m]"}}
   }}
 ]
}
]
}
